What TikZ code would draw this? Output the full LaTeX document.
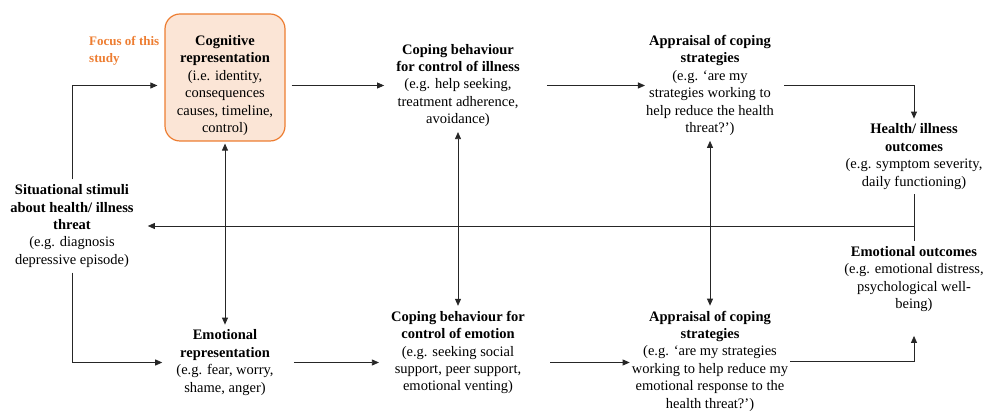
\documentclass[tikz,border=0pt]{standalone}
\usepackage{fontspec}
\setmainfont{Liberation Serif}
\usetikzlibrary{arrows.meta}
\definecolor{focusorange}{HTML}{ED7D31}
\definecolor{focusfill}{HTML}{FBE5D6}
\begin{document}
\begin{tikzpicture}[x=1pt, y=-1pt,
   txt/.style={align=center, inner xsep=12pt, inner ysep=5pt, font=\fontsize{14.5}{17.4}\selectfont},
   focusbox/.style={draw=focusorange, fill=focusfill, line width=1.2pt, rounded corners=15pt,
      minimum width=120pt, minimum height=127pt},
   focustxt/.style={align=left, inner sep=0pt, text=focusorange, font=\fontsize{13}{16.5}\selectfont\bfseries},
   ln/.style={line width=0.8pt, draw=black!85},
   arr/.style={ln, -{Triangle[length=7pt,width=6pt]}},
   dblarr/.style={ln, {Triangle[length=7pt,width=6pt]}-{Triangle[length=7pt,width=6pt]}}]
   \useasboundingbox (0,0) rectangle (985,411);
   \def\ytop{85.5};
   \def\xa{72};
   \def\xb{225};
   \def\xc{458};
   \def\xd{710};
   \def\xe{914};
   % top row
   \node[focusbox] (cogbox) at (\xb,77.5) {};
   \node[txt] (cog) at (\xb,\ytop) {\textbf{Cognitive}\\\textbf{representation}\\(i.e. identity,\\consequences\\causes, timeline,\\control)};
   \node[focustxt, anchor=west] (focus) at (89,51) {Focus of this\\study};
   \node[txt] (copeill) at (\xc,\ytop) {\textbf{Coping behaviour}\\\textbf{for control of illness}\\(e.g. help seeking,\\treatment adherence,\\avoidance)};
   \node[txt, inner xsep=1pt] (apptop) at (\xd,\ytop) {\textbf{Appraisal of coping}\\\textbf{strategies}\\(e.g. ‘are my\\strategies working to\\help reduce the health\\threat?’)};
   \node[txt] (health) at (\xe,156.5) {\textbf{Health/ illness}\\\textbf{outcomes}\\(e.g. symptom severity,\\daily functioning)};
   % middle
   \node[txt, inner xsep=14pt] (stim) at (\xa,226) {\textbf{Situational stimuli}\\\textbf{about health/ illness}\\\textbf{threat}\\(e.g. diagnosis\\depressive episode)};
   \node[txt] (emoout) at (\xe,279) {\textbf{Emotional outcomes}\\(e.g. emotional distress,\\psychological well-\\being)};
   % bottom row
   \node[txt, inner xsep=14pt] (emorep) at (\xb,362.5) {\textbf{Emotional}\\\textbf{representation}\\(e.g. fear, worry,\\shame, anger)};
   \node[txt] (copeemo) at (\xc,352.5) {\textbf{Coping behaviour for}\\\textbf{control of emotion}\\(e.g. seeking social\\support, peer support,\\emotional venting)};
   \node[txt, inner xsep=2pt] (appbot) at (\xd,361) {\textbf{Appraisal of coping}\\\textbf{strategies}\\(e.g. ‘are my strategies\\working to help reduce my\\emotional response to the\\health threat?’)};
   % connectors, top path
   \draw[arr, shorten >=7pt] (stim.north) |- (cog.west -| cogbox.west);
   \draw[arr, shorten <=6pt] (cog.west -| cogbox.east) -- (copeill.west);
   \draw[arr, shorten <=15pt] (copeill.east) -- (copeill.east -| apptop.west);
   \draw[arr, shorten <=9pt] (apptop.east) -| (health.north);
   \draw[ln] (health.south) -- (emoout.north);
   \draw[arr] (health.south |- stim.east) -- (stim.east);
   % connectors, bottom path
   \draw[arr] (stim.south) |- (emorep.west);
   \draw[arr, shorten <=6pt] (emorep.east) -- (emorep.east -| copeemo.west);
   \draw[arr, shorten <=13pt] (emorep.east -| copeemo.east) -- (emorep.east -| appbot.west);
   \draw[arr, shorten >=19pt] (appbot.east) -| (emoout.south);
   % two-way links
   \draw[dblarr, shorten <=2pt] (cogbox.south) -- (emorep.north);
   \draw[dblarr] (copeill.south) -- (copeemo.north);
   \draw[dblarr] (apptop.south) -- (appbot.north);
\end{tikzpicture}
\end{document}
